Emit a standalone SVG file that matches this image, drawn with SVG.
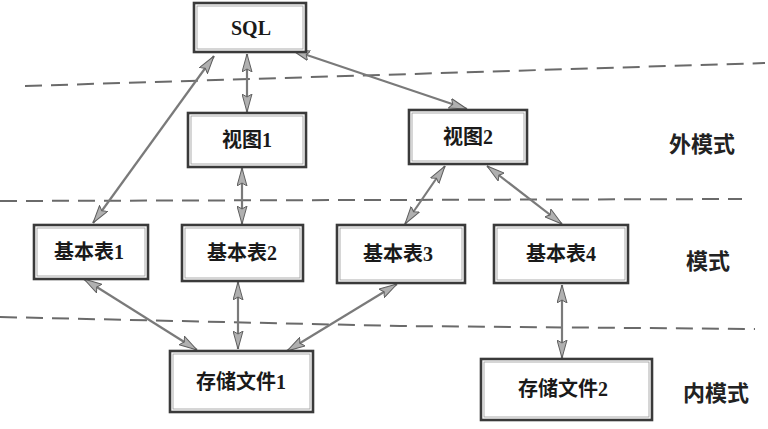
<svg xmlns="http://www.w3.org/2000/svg" width="768" height="429" viewBox="0 0 768 429">
<style>
.box{fill:#fff;stroke:#3a3a3a;stroke-width:2.6}
.inner{fill:none;stroke:#9a9a9a;stroke-width:0.8}
.t{font-family:"Liberation Serif","Noto Sans CJK SC",serif;font-weight:bold;font-size:20px;fill:#1a1a1a;text-anchor:middle;dominant-baseline:central}
.lab{font-family:"Noto Sans CJK SC",sans-serif;font-weight:bold;font-size:22px;fill:#222;text-anchor:middle;dominant-baseline:central}
.dash{fill:none;stroke:#6a6a6a;stroke-width:2;stroke-dasharray:17 9}
.c{fill:none;stroke:#7a7a7a;stroke-width:2.2;marker-start:url(#ah);marker-end:url(#ah)}
</style>
<defs>
<marker id="ah" markerUnits="userSpaceOnUse" markerWidth="18" markerHeight="11" viewBox="0 0 18 11" refX="18" refY="5.5" orient="auto-start-reverse">
<path d="M0,0.5 L18,5.5 L0,10.5 L3,5.5 z" fill="#b0b0b0" stroke="#5e5e5e" stroke-width="1"/>
</marker>
</defs>
<rect width="768" height="429" fill="#fff"/>
<g id="separators">
<path class="dash" d="M25,86 L765,63"/>
<path class="dash" d="M0,201 L742,199"/>
<path class="dash" d="M0,317 L400,326 L755,329"/>
</g>
<g id="connectors">
<line class="c" x1="214" y1="56" x2="93" y2="223"/>
<line class="c" x1="247" y1="54" x2="247" y2="112"/>
<line class="c" x1="292" y1="50" x2="467" y2="109"/>
<line class="c" x1="242" y1="168" x2="242" y2="224"/>
<line class="c" x1="445" y1="166" x2="405" y2="224"/>
<line class="c" x1="487" y1="166" x2="562" y2="224"/>
<line class="c" x1="84" y1="279" x2="197" y2="350"/>
<line class="c" x1="238" y1="282" x2="238" y2="349"/>
<line class="c" x1="397" y1="284" x2="287" y2="351"/>
<line class="c" x1="562" y1="285" x2="562" y2="358"/>
</g>
<g id="sql"><rect class="box" x="194" y="3" width="112" height="49"/><rect class="inner" x="197" y="6" width="106" height="43"/><text class="t" x="251" y="28">SQL</text></g>
<g id="view1"><rect class="box" x="188" y="113" width="118" height="54"/><rect class="inner" x="191" y="116" width="112" height="48"/><text class="t" x="247" y="140">视图1</text></g>
<g id="view2"><rect class="box" x="409" y="110" width="118" height="54"/><rect class="inner" x="412" y="113" width="112" height="48"/><text class="t" x="468" y="137">视图2</text></g>
<g id="base1"><rect class="box" x="34" y="225" width="114" height="54"/><rect class="inner" x="37" y="228" width="108" height="48"/><text class="t" x="89" y="252">基本表1</text></g>
<g id="base2"><rect class="box" x="182" y="225" width="121" height="56"/><rect class="inner" x="185" y="228" width="115" height="50"/><text class="t" x="242" y="253">基本表2</text></g>
<g id="base3"><rect class="box" x="337" y="225" width="128" height="58"/><rect class="inner" x="340" y="228" width="122" height="52"/><text class="t" x="398" y="254">基本表3</text></g>
<g id="base4"><rect class="box" x="494" y="225" width="134" height="58"/><rect class="inner" x="497" y="228" width="128" height="52"/><text class="t" x="561" y="254">基本表4</text></g>
<g id="file1"><rect class="box" x="170" y="351" width="143" height="61"/><rect class="inner" x="173" y="354" width="137" height="55"/><text class="t" x="241" y="382">存储文件1</text></g>
<g id="file2"><rect class="box" x="481" y="359" width="171" height="61"/><rect class="inner" x="484" y="362" width="165" height="55"/><text class="t" x="563" y="389">存储文件2</text></g>
<g id="labels">
<text class="lab" x="702" y="142">外模式</text>
<text class="lab" x="708" y="259">模式</text>
<text class="lab" x="716" y="391">内模式</text>
</g>
</svg>
